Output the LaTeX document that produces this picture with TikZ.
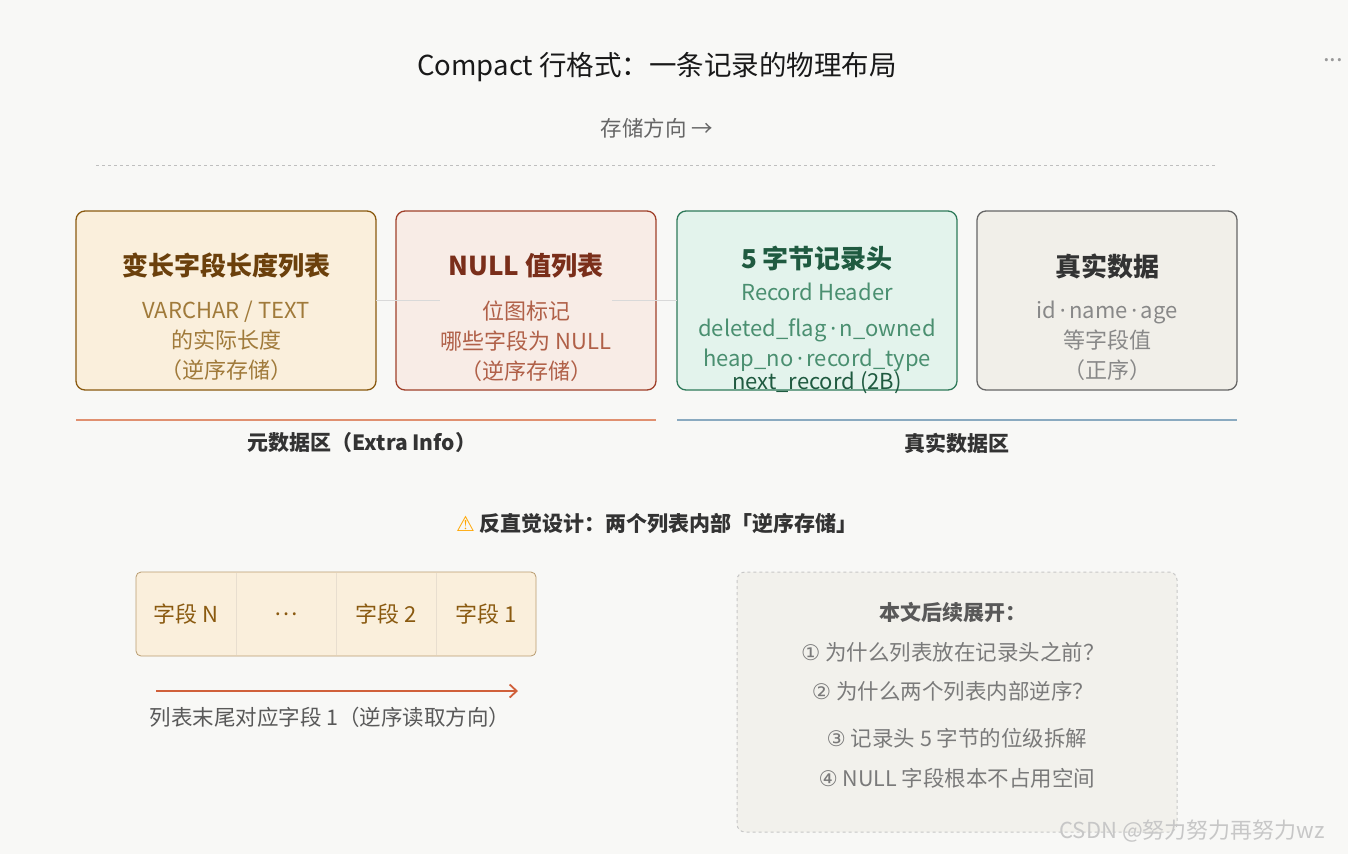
\documentclass[tikz,border=0pt]{standalone}
\usepackage{fontspec}
\setmainfont{Noto Sans CJK SC}
\newfontfamily\dv{DejaVu Sans}
\newfontfamily\ns{Noto Sans}
\newcommand{\md}{{\ns\,·\,}}
\usetikzlibrary{arrows.meta}
\definecolor{bg}{HTML}{F8F8F6}
\definecolor{af}{HTML}{FAEFDC}\definecolor{ad}{HTML}{8A5A10}\definecolor{at}{HTML}{6B400C}\definecolor{as}{HTML}{A07A3A}
\definecolor{bf}{HTML}{F8ECE6}\definecolor{bd}{HTML}{A0402A}\definecolor{bt}{HTML}{7A2E1A}\definecolor{bs}{HTML}{B06048}
\definecolor{cf}{HTML}{E3F3EC}\definecolor{cd}{HTML}{2E7A5A}\definecolor{ct}{HTML}{1F5A40}\definecolor{cs}{HTML}{4A8F70}
\definecolor{df}{HTML}{F1EFE9}\definecolor{dd}{HTML}{666666}\definecolor{dt}{HTML}{333333}\definecolor{ds}{HTML}{888888}
\definecolor{ol}{HTML}{E09070}\definecolor{bl}{HTML}{8AAAC0}\definecolor{ar}{HTML}{D0603A}\definecolor{nf}{HTML}{F2F1EC}
\begin{document}
\begin{tikzpicture}[x=1pt,y=-1pt,
  box/.style={draw,line width=1.3pt,rounded corners=9pt},
  ttl/.style={font=\fontsize{26}{30}\selectfont\bfseries},
  sub/.style={font=\fontsize{22}{30}\selectfont,align=center},
  mid/.style={font=\fontsize{21.5}{26}\selectfont,text=dt},
  gry/.style={font=\fontsize{21.5}{26}\selectfont,text=ds!90!black}]
\fill[bg] (0,0) rectangle (1348,854);
\useasboundingbox (0,0) rectangle (1348,854);
\node[font=\fontsize{27.5}{32}\selectfont,text=black!90] (title) at (657,67) {Compact 行格式：一条记录的物理布局};
\node[text=gray!80,font=\fontsize{24}{28}\selectfont] at (1333,60) {...};
\node[mid,text=black!60] (dir) at (657,128) {存储方向 →};
\coordinate (dl) at (96,165); \coordinate (dr) at (1216,165);
\draw[black!25,dashed,line width=0.8pt] (dl) -- (dr);
% boxes
\draw[box,ad,fill=af] (76,211) rectangle (376,390);
\draw[box,bd,fill=bf] (396,211) rectangle (656,390);
\draw[box,cd,fill=cf] (677,211) rectangle (957,390);
\draw[box,dd,fill=df] (977,211) rectangle (1237,390);
\coordinate (a1) at (376,300); \coordinate (a2) at (677,300);
\draw[black!15,line width=1pt] (a1) -- (a2);
\node[ttl,text=at] (t1) at (226,266) {变长字段长度列表};
\node[sub,text=as] (s1) at (226,341) {VARCHAR / TEXT\\的实际长度\\（逆序存储）};
\node[ttl,text=bt] (t2) at (526,266) {NULL 值列表};
\node[sub,text=bs,fill=bf,inner sep=1pt] (s2) at (526,341) {位图标记\\哪些字段为 NULL\\（逆序存储）};
\node[ttl,text=ct] (t3) at (817,259) {5 字节记录头};
\node[sub,text=cs] (s3a) at (817,292) {Record Header};
\node[sub,text=cs] (s3b) at (817,345) {deleted\_flag\md n\_owned\\heap\_no\md record\_type};
\node[sub,text=ct] (s3c) at (817,383) {next\_record (2B)};
\node[ttl,text=dt] (t4) at (1107,266) {真实数据};
\node[sub,text=ds] (s4) at (1107,341) {id\md name\md age\\等字段值\\（正序）};
% region lines
\coordinate (o1) at (76,420); \coordinate (o2) at (656,420);
\coordinate (b1) at (677,420); \coordinate (b2) at (1237,420);
\draw[ol,line width=1.2pt] (o1) -- (o2);
\draw[bl,line width=1.2pt] (b1) -- (b2);
\node[mid,font=\fontsize{21}{26}\selectfont\bfseries] (l1) at (362,443) {元数据区（Extra Info）};
\node[mid,font=\fontsize{21}{26}\selectfont\bfseries] (l2) at (957,443) {真实数据区};
% warning
\node[mid,font=\fontsize{21}{26}\selectfont\bfseries] (warn) at (657,523) {{\dv\color{orange!70!yellow}⚠}\ 反直觉设计：两个列表内部「逆序存储」};
% field strip
\draw[ad!60,fill=af,line width=0.8pt,rounded corners=5pt] (136,572) rectangle (536,656);
\foreach \t/\x in {字段 N/186,…/286,字段 2/386,字段 1/486}
  \node[sub,text=ad] at (\x,614) {\t};
\foreach \x in {236,336,436} \draw[ad!20,line width=0.8pt] (\x,573) -- (\x,655);
\coordinate (r1) at (156,691); \coordinate (r2) at (518,691);
\draw[ar,line width=1.8pt,-{Straight Barb[length=7pt,width=13pt]}] (r1) -- (r2);
\node[mid,text=black!65] (cap) at (330,717) {列表末尾对应字段 1（逆序读取方向）};
% note box
\draw[black!22,dashed,fill=nf,line width=1pt,rounded corners=8pt] (737,572) rectangle (1177,832);
\node[mid,font=\fontsize{21}{26}\selectfont\bfseries,text=black!65] (n0) at (953,612) {本文后续展开：};
\node[gry] (n1) at (953,652) {{\dv ①} 为什么列表放在记录头之前？};
\node[gry] (n2) at (953,691) {{\dv ②} 为什么两个列表内部逆序？};
\node[gry] (n3) at (957,738) {{\dv ③} 记录头 5 字节的位级拆解};
\node[gry] (n4) at (957,778) {{\dv ④} NULL 字段根本不占用空间};
\node[font=\fontsize{22}{26}\selectfont,text=black!22] at (1192,831) {CSDN @努力努力再努力wz};
\end{tikzpicture}
\end{document}
